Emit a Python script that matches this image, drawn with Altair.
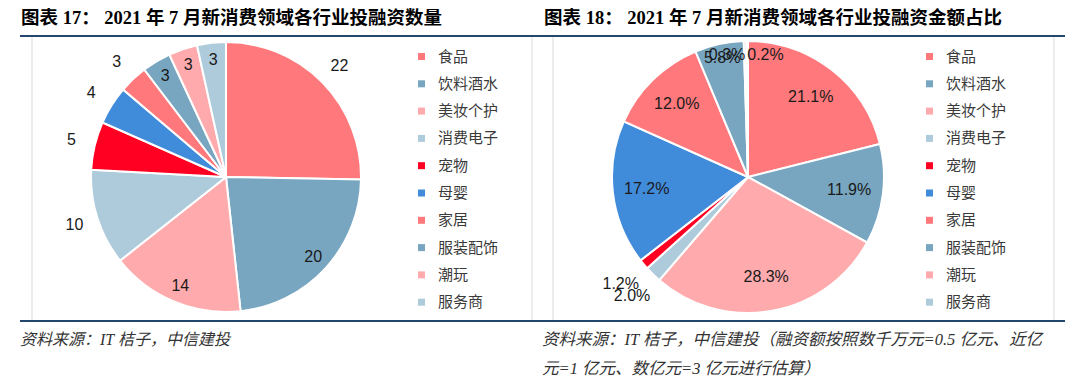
import altair as alt
import pandas as pd

# ---------------- data ----------------
categories = ["食品", "饮料酒水", "美妆个护", "消费电子", "宠物", "母婴", "家居", "服装配饰", "潮玩", "服务商"]
deal_counts = [22, 20, 14, 10, 5, 4, 3, 3, 3, 3]
amount_share = [21.1, 11.9, 28.3, 2.0, 1.2, 17.2, 12.0, 5.8, 0.3, 0.2]
colors = ["#FF787C", "#78A6C1", "#FFABAE", "#AECBDB", "#FF0022",
          "#418BDB", "#FF787C", "#78A6C1", "#FFABAE", "#AECBDB"]

title_left = "图表 17：  2021 年 7 月新消费领域各行业投融资数量"
title_right = "图表 18：  2021 年 7 月新消费领域各行业投融资金额占比"
source_left = "资料来源：IT 桔子，中信建投"
source_right_1 = "资料来源：IT 桔子，中信建投（融资额按照数千万元=0.5 亿元、近亿"
source_right_2 = "元=1 亿元、数亿元=3 亿元进行估算）"

# label placement groups
left_inside = ["饮料酒水", "美妆个护", "服装配饰", "潮玩", "服务商"]
left_outside = ["食品", "消费电子", "宠物", "母婴", "家居"]
right_inside = ["食品", "饮料酒水", "美妆个护", "母婴", "家居"]
right_outside = ["消费电子", "宠物"]

NUM_FONT = "Liberation Sans, Arial, sans-serif"
CJK_FONT = "Noto Sans CJK SC"
TITLE_FONT = 'Liberation Serif, "Noto Sans CJK SC"'
NOTE_FONT = 'Liberation Serif, "Noto Sans CJK SC"'

W, H = 1064, 370


def pie_frame(values):
    return pd.DataFrame({"cat": categories, "value": values, "idx": list(range(len(categories)))})


def pie_base(df, cx, cy, pct):
    label_expr = "format(datum.value, '.1f') + '%'" if pct else "format(datum.value, 'd')"
    return (
        alt.Chart(df)
        .transform_joinaggregate(total="sum(value)")
        .transform_window(cum="sum(value)", sort=[alt.SortField("idx")], frame=[None, 0])
        .transform_calculate(
            t0="(datum.cum - datum.value) / datum.total * 2 * PI",
            t1="datum.cum / datum.total * 2 * PI",
            mid="(datum.cum - datum.value / 2) / datum.total * 2 * PI",
            label=label_expr,
        )
        .encode(x=alt.value(cx), y=alt.value(cy))
    )


def arcs(base, r, legend_x, legend_y):
    return base.mark_arc(outerRadius=r, stroke="white", strokeWidth=2).encode(
        theta=alt.Theta("t0:Q", scale=None),
        theta2="t1:Q",
        color=alt.Color(
            "cat:N",
            scale=alt.Scale(domain=categories, range=colors),
            sort=categories,
            legend=alt.Legend(
                title=None,
                orient="none",
                legendX=legend_x,
                legendY=legend_y,
                symbolType="square",
                symbolSize=49,
                symbolStrokeWidth=0,
                labelFont=CJK_FONT,
                labelFontSize=15,
                labelColor="#3a3a3a",
                labelOffset=9,
                rowPadding=11.3,
                padding=0,
            ),
        ),
    )


def labels(base, cats, radius, align="center"):
    return (
        base.transform_filter(alt.FieldOneOfPredicate(field="cat", oneOf=cats))
        .mark_text(radius=radius, font=NUM_FONT, fontSize=16, color="#1a1a1a", align=align, baseline="middle")
        .encode(theta=alt.Theta("mid:Q", scale=None), text="label:N")
    )


# ---------------- pies ----------------
left_base = pie_base(pie_frame(deal_counts), 218, 169, False)
right_base = pie_base(pie_frame(amount_share), 740, 169, True)

left_pie = arcs(left_base, 135, 406, 41)
right_pie = arcs(right_base, 136, 914, 41)

layers = [
    left_pie,
    labels(left_base, left_inside, 118),
    labels(left_base, left_outside, 159),
    right_pie,
    labels(right_base, right_inside, 102),
    labels(right_base, ["服装配饰"], 122),
    labels(right_base, ["潮玩"], 122, "right"),
    labels(right_base, ["服务商"], 122, "left"),
    labels(right_base, right_outside, 166),
]

# ---------------- frame & text ----------------
blank = alt.Chart(pd.DataFrame({"k": [0]}))

frame = []
for yy in [28, 313]:
    frame.append(blank.mark_rule(color="#23466F", strokeWidth=2).encode(
        x=alt.value(12), x2=alt.value(1057), y=alt.value(yy)))
for xx in [24, 524, 545, 1046]:
    frame.append(blank.mark_rule(color="#D9D9D9", strokeWidth=1).encode(
        x=alt.value(xx), y=alt.value(29), y2=alt.value(312)))


def text_item(s, x, y, font, size, weight="normal", style="normal", color="#000000"):
    return alt.Chart(pd.DataFrame({"t": [s]})).mark_text(
        align="left", baseline="middle", font=font, fontSize=size,
        fontWeight=weight, fontStyle=style, color=color
    ).encode(x=alt.value(x), y=alt.value(y), text="t:N")


texts = [
    text_item(title_left, 13, 10, TITLE_FONT, 18.5, "bold"),
    text_item(title_right, 536, 10, TITLE_FONT, 18.5, "bold"),
    text_item(source_left, 12, 332, NOTE_FONT, 16, style="italic", color="#333333"),
    text_item(source_right_1, 534, 332, NOTE_FONT, 16.5, style="italic", color="#333333"),
    text_item(source_right_2, 534, 361, NOTE_FONT, 16.5, style="italic", color="#333333"),
]

chart = (
    alt.layer(*frame, *layers, *texts)
    .resolve_scale(color="independent")
    .properties(width=W, height=H, padding=0, autosize="none", background="white")
    .configure_view(strokeWidth=0)
)

chart.save("out.html", embed_options={"renderer": "svg", "actions": False})
